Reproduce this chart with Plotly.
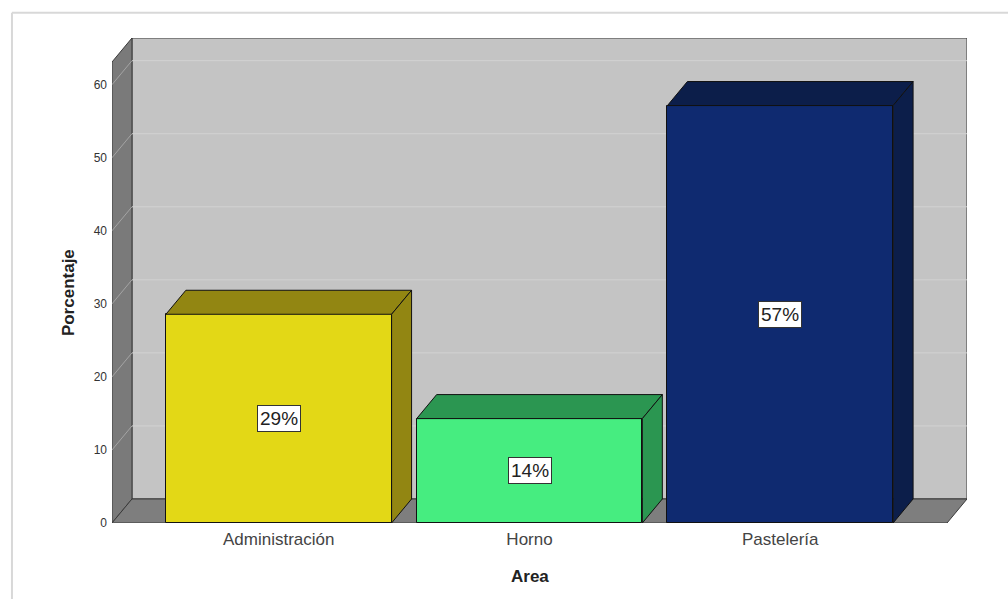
import plotly.graph_objects as go

# ---- data ----
categories = ["Administración", "Horno", "Pastelería"]
values = [28.57, 14.29, 57.14]
labels = ["29%", "14%", "57%"]
y_ticks = [0, 10, 20, 30, 40, 50, 60]

# ---- style ----
front_colors = ["#e3d816", "#46ed80", "#0f2a70"]
side_colors = ["#928612", "#2b9651", "#0c1e4a"]
BAR_W = 0.9
DX = 20 / 251.0      # depth offset in category units
DY = 24 / 7.3        # depth offset in value units
X0, X1 = -0.665, 2.665
YTOP = 63.1
FONT = "Liberation Sans, Arial, sans-serif"

fig = go.Figure()

def poly(xs, ys):
    return "M " + " L ".join(f"{x},{y}" for x, y in zip(xs, ys)) + " Z"

shapes = []
# back wall
shapes.append(dict(type="path", xref="x", yref="y", layer="below",
                   path=poly([X0 + DX, X1 + DX, X1 + DX, X0 + DX], [DY, DY, YTOP + DY, YTOP + DY]),
                   fillcolor="#c4c4c4", line=dict(color="#3a3a3a", width=1)))
# left side wall
shapes.append(dict(type="path", xref="x", yref="y", layer="below",
                   path=poly([X0, X0, X0 + DX, X0 + DX], [0, YTOP, YTOP + DY, DY]),
                   fillcolor="#7a7a7a", line=dict(color="#3a3a3a", width=1)))
# gridlines
for v in y_ticks[1:]:
    shapes.append(dict(type="line", xref="x", yref="y", layer="below",
                       x0=X0 + DX, x1=X1 + DX, y0=v + DY, y1=v + DY,
                       line=dict(color="#d2d2d2", width=1)))
    shapes.append(dict(type="line", xref="x", yref="y", layer="below",
                       x0=X0, x1=X0 + DX, y0=v, y1=v + DY,
                       line=dict(color="#a4a4a4", width=1)))
# floor
shapes.append(dict(type="path", xref="x", yref="y", layer="below",
                   path=poly([X0, X1, X1 + DX, X0 + DX], [0, 0, DY, DY]),
                   fillcolor="#7e7e7e", line=dict(color="#3a3a3a", width=1)))
# outer frame
shapes.append(dict(type="line", xref="paper", yref="paper", x0=-0.117, x1=-0.117, y0=-0.2, y1=1.052,
                   line=dict(color="#d8d8d8", width=2)))
shapes.append(dict(type="line", xref="paper", yref="paper", x0=-0.117, x1=1.1, y0=1.052, y1=1.052,
                   line=dict(color="#d8d8d8", width=2)))

# front faces
fig.add_trace(go.Bar(x=list(range(len(categories))), y=values, width=BAR_W,
                     marker=dict(color=front_colors, line=dict(color="#111111", width=1)),
                     hoverinfo="skip", showlegend=False))

# top and side faces
for i, v in enumerate(values):
    xl, xr = i - BAR_W / 2, i + BAR_W / 2
    fig.add_trace(go.Scatter(x=[xl, xr, xr + DX, xl + DX, xl], y=[v, v, v + DY, v + DY, v],
                             mode="lines", fill="toself", fillcolor=side_colors[i],
                             line=dict(color="#111111", width=1), hoverinfo="skip", showlegend=False))
    fig.add_trace(go.Scatter(x=[xr, xr, xr + DX, xr + DX, xr], y=[0, v, v + DY, DY, 0],
                             mode="lines", fill="toself", fillcolor=side_colors[i],
                             line=dict(color="#111111", width=1), hoverinfo="skip", showlegend=False))

annotations = []
for i, (v, t) in enumerate(zip(values, labels)):
    annotations.append(dict(x=i, y=v / 2, xref="x", yref="y", text=t, showarrow=False,
                            font=dict(family=FONT, size=19, color="#222222"),
                            bgcolor="white", bordercolor="#333333", borderwidth=1, borderpad=2))
annotations.append(dict(x=-0.0515, y=0.476, xref="paper", yref="paper", text="<b>Porcentaje</b>",
                        textangle=-90, showarrow=False, xanchor="center", yanchor="middle",
                        font=dict(family=FONT, size=17, color="#222222")))
annotations.append(dict(x=1, y=-0.1093, xref="x", yref="paper", text="<b>Area</b>", showarrow=False,
                        xanchor="center", yanchor="middle",
                        font=dict(family=FONT, size=17, color="#222222")))

fig.update_layout(
    template="none",
    width=1008, height=599,
    margin=dict(l=112, r=41, t=38, b=76),
    paper_bgcolor="white", plot_bgcolor="rgba(0,0,0,0)",
    shapes=shapes, annotations=annotations,
    xaxis=dict(range=[X0, X1 + DX], tickvals=list(range(len(categories))), ticktext=categories,
               showgrid=False, zeroline=False, showline=False, ticks="", ticklabelstandoff=4,
               tickfont=dict(family=FONT, size=17, color="#444444")),
    yaxis=dict(range=[0, YTOP + DY], tickvals=y_ticks, showgrid=False, zeroline=False,
               showline=False, ticks="", ticklabelstandoff=4,
               tickfont=dict(family=FONT, size=12, color="#333333")),
    bargap=0,
)

fig.write_html("out.html")
